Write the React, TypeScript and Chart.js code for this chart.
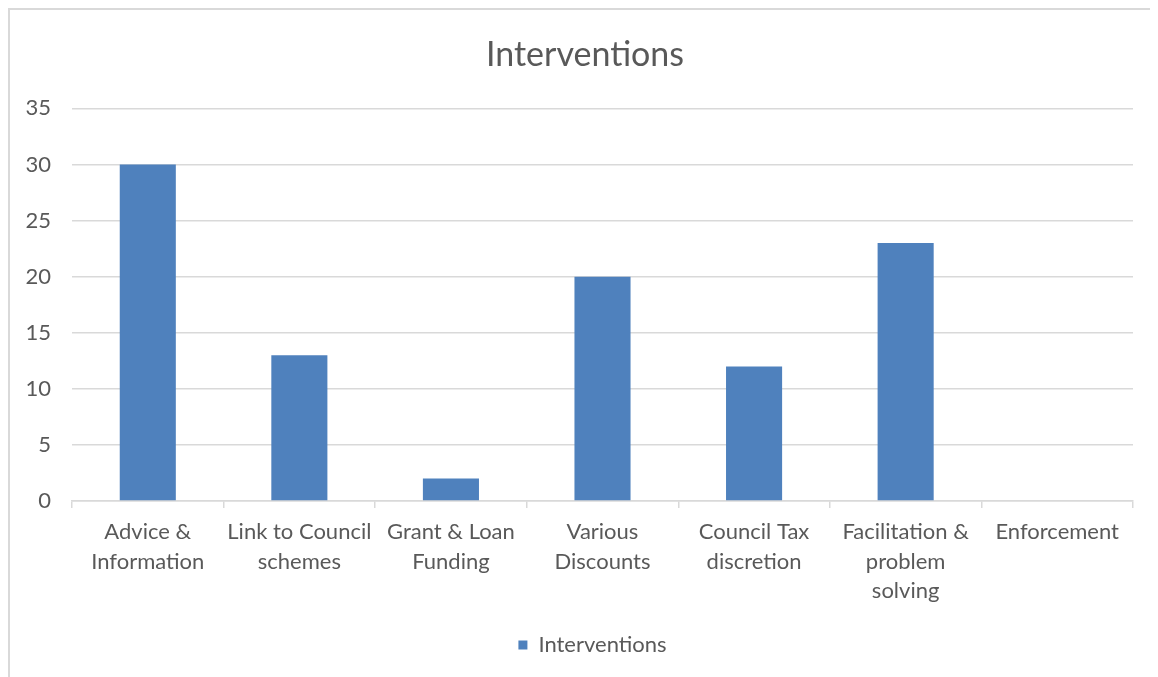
import React, { useEffect, useRef } from "react";
import { Chart, registerables } from "chart.js";

Chart.register(...registerables);

const categories: (string | string[])[] = [
  ["Advice &", "Information"],
  ["Link to Council", "schemes"],
  ["Grant & Loan", "Funding"],
  ["Various", "Discounts"],
  ["Council Tax", "discretion"],
  ["Facilitation &", "problem", "solving"],
  ["Enforcement"],
];
const seriesName = "Interventions";
const seriesValues = [30, 13, 2, 20, 12, 23, 0];
const chartTitle = "Interventions";
const yMin = 0;
const yMax = 35;
const yStep = 5;

const FONT = "Lato, 'Noto Sans', sans-serif";
const TEXT = "#595959";
const GRID = "#d9d9d9";
const BAR = "#4f81bd";

const RIGHT_PAD = 25;

const recenter = {
  id: "recenter",
  afterLayout(chart: any) {
    const t = chart.titleBlock;
    if (t) {
      t.right += RIGHT_PAD + 2;
      t.width = t.right - t.left;
    }
    const l = chart.legend;
    if (l) {
      l.left += 21;
      l.right += 21;
    }
  },
};

export default function App() {
  const ref = useRef<HTMLCanvasElement | null>(null);
  useEffect(() => {
    if (!ref.current) return;
    const chart = new Chart(ref.current, {
      type: "bar",
      data: {
        labels: categories,
        datasets: [
          {
            label: seriesName,
            data: seriesValues,
            backgroundColor: BAR,
            borderWidth: 0,
            barPercentage: 0.37,
            categoryPercentage: 1,
          },
        ],
      },
      plugins: [recenter],
      options: {
        responsive: false,
        animation: false,
        layout: { padding: { left: 0, right: RIGHT_PAD, top: 0, bottom: 11 } },
        plugins: {
          title: {
            display: true,
            text: chartTitle,
            color: TEXT,
            font: { family: FONT, size: 34, weight: "normal", lineHeight: 1.2 },
            padding: { top: 25, bottom: 32.6 },
          },
          legend: {
            display: true,
            position: "bottom",
            labels: {
              color: TEXT,
              font: { family: FONT, size: 22 },
              boxWidth: 9,
              boxHeight: 9,
              padding: 10,
            },
          },
          tooltip: { enabled: false },
        },
        scales: {
          x: {
            grid: {
              display: true,
              drawOnChartArea: false,
              drawTicks: true,
              tickLength: 7,
              color: GRID,
              lineWidth: 1.5,
            },
            border: { display: true, color: GRID, width: 1.5 },
            ticks: {
              color: TEXT,
              padding: 9,
              maxRotation: 0,
              autoSkip: false,
              font: { family: FONT, size: 22, lineHeight: 1.35 },
            },
            afterFit: (scale: any) => {
              scale.height = 123;
            },
          },
          y: {
            min: yMin,
            max: yMax,
            ticks: {
              stepSize: yStep,
              color: TEXT,
              padding: 21,
              font: { family: FONT, size: 22 },
            },
            grid: { color: GRID, lineWidth: 1.5, drawTicks: false },
            border: { display: false },
            afterFit: (scale: any) => {
              scale.width = 62;
            },
          },
        },
      },
    });
    return () => chart.destroy();
  }, []);

  return (
    <div
      style={{
        width: 1150,
        height: 669,
        borderTop: "2px solid #d9d9d9",
        borderLeft: "2px solid #d9d9d9",
        boxSizing: "border-box",
        overflow: "hidden",
      }}
    >
      <canvas ref={ref} width={1148} height={667} style={{ display: "block" }} />
    </div>
  );
}
